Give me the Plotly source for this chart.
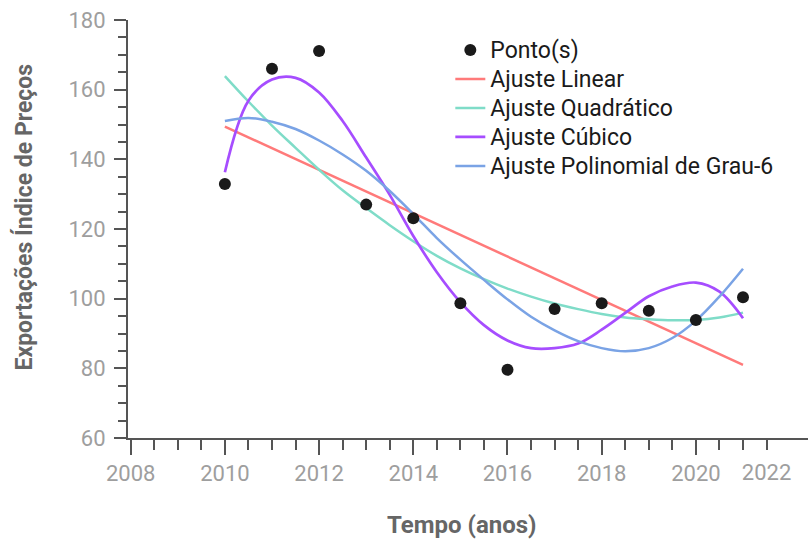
import plotly.graph_objects as go

# ---- data ----
years = [2010, 2011, 2012, 2013, 2014, 2015, 2016, 2017, 2018, 2019, 2020, 2021]
pontos = [132.9, 166.0, 171.1, 127.0, 123.1, 98.7, 79.6, 97.0, 98.7, 96.5, 93.9, 100.4]

lin_x = [2010, 2021]
lin_y = [149.4, 81.0]

# fitted curves, every half year
fit_x = [2010, 2010.5, 2011, 2011.5, 2012, 2012.5, 2013, 2013.5, 2014, 2014.5, 2015, 2015.5,
         2016, 2016.5, 2017, 2017.5, 2018, 2018.5, 2019, 2019.5, 2020, 2020.5, 2021]
quad_y = [163.9, 156.6, 149.7, 143.3, 137.0, 131.1, 126.0, 121.1, 116.5, 112.3, 108.7, 105.6,
          102.9, 100.6, 98.6, 97.0, 95.6, 94.6, 94.1, 93.8, 93.9, 94.6, 96.0]
cub_y = [136.3, 156.8, 162.9, 163.4, 159.2, 151.0, 140.5, 129.8, 118.0, 107.6, 99.0, 92.4,
         88.0, 85.8, 85.8, 87.1, 91.1, 95.9, 100.7, 103.5, 104.6, 102.0, 94.4]
g6_y = [151.0, 151.9, 150.8, 148.7, 145.4, 141.4, 136.7, 130.9, 124.3, 117.4, 111.2, 105.4,
        99.8, 94.8, 90.9, 87.8, 85.8, 84.9, 85.8, 88.7, 93.7, 100.6, 108.6]

names = ["Ponto(s)", "Ajuste Linear", "Ajuste Quadrático", "Ajuste Cúbico", "Ajuste Polinomial de Grau-6"]

x_major = [2008, 2010, 2012, 2014, 2016, 2018, 2020]
x_minor = [2008.5, 2009, 2009.5, 2010.5, 2011, 2011.5, 2012.5, 2013, 2013.5, 2014.5, 2015, 2015.5,
           2016.5, 2017, 2017.5, 2018.5, 2019, 2019.5, 2020.5, 2021, 2021.5]
x_last_label_pos = [2021.5]
x_last_label = ["2022"]

FONT = "Roboto"
AXC = "#555555"
TICKC = "#9e9e9e"
TITLEC = "#666666"


def leg(name):
    return '<span style="font-size:23px">' + name + "</span>"


fig = go.Figure()
fig.add_trace(go.Scatter(x=lin_x, y=lin_y, mode="lines", name=leg(names[1]),
                         line=dict(color="#ff7a7a", width=2.5), legendrank=2))
fig.add_trace(go.Scatter(x=fit_x, y=quad_y, mode="lines", name=leg(names[2]),
                         line=dict(color="#7fdcc8", width=2.5, shape="spline", smoothing=1.0), legendrank=3))
fig.add_trace(go.Scatter(x=fit_x, y=cub_y, mode="lines", name=leg(names[3]),
                         line=dict(color="#a64dff", width=2.7, shape="spline", smoothing=1.0), legendrank=4))
fig.add_trace(go.Scatter(x=fit_x, y=g6_y, mode="lines", name=leg(names[4]),
                         line=dict(color="#7aa3e5", width=2.5, shape="spline", smoothing=1.0), legendrank=5))
fig.add_trace(go.Scatter(x=years, y=pontos, mode="markers", name=leg(names[0]),
                         marker=dict(color="#1a1a1a", size=12), legendrank=1))
fig.add_trace(go.Scatter(x=[], y=[], xaxis="x2", showlegend=False, hoverinfo="skip"))

rng = [2007.943, 2022.38]
fig.update_layout(
    width=808, height=539,
    margin=dict(l=128, r=0, t=20, b=101),
    paper_bgcolor="white", plot_bgcolor="white",
    font=dict(family=FONT),
    showlegend=True,
    legend=dict(x=0.474, y=0.975, xanchor="left", yanchor="top",
                font=dict(family=FONT, size=20, color="#1a1a1a"),
                bgcolor="rgba(0,0,0,0)", borderwidth=0),
    xaxis=dict(range=rng, tickmode="array", tickvals=x_major,
               showline=True, linecolor=AXC, linewidth=2,
               ticks="outside", ticklen=15, tickwidth=2, tickcolor=AXC,
               tickfont=dict(family=FONT, size=22, color=TICKC),
               showgrid=False, zeroline=False,
               minor=dict(tickmode="array", tickvals=x_minor, ticks="outside",
                          ticklen=10, tickwidth=2, tickcolor=AXC, showgrid=False)),
    xaxis2=dict(range=rng, overlaying="x", anchor="y", side="bottom",
                tickmode="array", tickvals=x_last_label_pos, ticktext=x_last_label,
                ticks="outside", ticklen=15, tickwidth=2, tickcolor="rgba(0,0,0,0)",
                tickfont=dict(family=FONT, size=22, color=TICKC),
                showline=False, showgrid=False, zeroline=False),
    yaxis=dict(range=[60, 180], tickmode="linear", tick0=60, dtick=20,
               showline=True, linecolor=AXC, linewidth=2,
               ticks="outside", ticklen=12, tickwidth=2, tickcolor=AXC,
               ticklabelstandoff=4,
               tickfont=dict(family=FONT, size=22, color=TICKC),
               showgrid=False, zeroline=False,
               minor=dict(dtick=5, ticks="outside", ticklen=8, tickwidth=2,
                          tickcolor=AXC, showgrid=False)),
    annotations=[
        dict(text="<b>Tempo (anos)</b>", xref="paper", yref="paper",
             x=0.4919, y=-0.2081, xanchor="center", yanchor="middle", showarrow=False,
             font=dict(family=FONT, size=24, color=TITLEC)),
        dict(text="<b>Exportações Índice de Preços</b>", xref="paper", yref="paper",
             x=-0.1544, y=0.5275, xanchor="center", yanchor="middle", showarrow=False,
             textangle=-90, font=dict(family=FONT, size=23, color=TITLEC)),
    ],
)

fig.write_html("out.html")
